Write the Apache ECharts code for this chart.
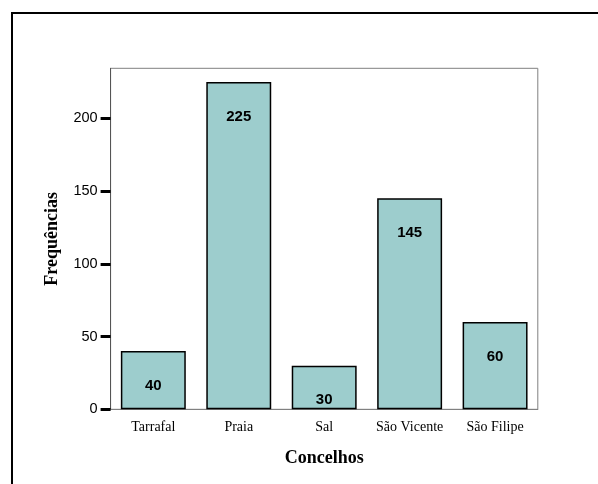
<!DOCTYPE html>
<html>
<head>
<meta charset="utf-8">
<script src="https://cdn.jsdelivr.net/npm/echarts@6/dist/echarts.min.js"></script>
<style>
  html, body { margin: 0; padding: 0; background: #fff; }
  #chart { width: 598px; height: 484px; }
</style>
</head>
<body>
<div id="chart"></div>
<script>
// concelhos e frequências
const concelhos = ['Tarrafal', 'Praia', 'Sal', 'São Vicente', 'São Filipe'];
const frequencias = [40, 225, 30, 145, 60];
const yTicks = [0, 50, 100, 150, 200];

const chart = echarts.init(document.getElementById('chart'));
chart.setOption({
  animation: false,
  graphic: [{
    type: 'rect',
    shape: { x: 12, y: 13, width: 590, height: 500 },
    style: { fill: 'none', stroke: '#000', lineWidth: 2 }
  }],
  grid: {
    left: 110.6, right: 60.2, top: 68.3, bottom: 74.7,
    show: true, borderColor: '#808080', borderWidth: 1
  },
  xAxis: {
    type: 'category',
    data: concelhos,
    name: 'Concelhos',
    nameLocation: 'middle',
    nameGap: 40,
    nameTextStyle: { fontFamily: 'Liberation Serif', fontWeight: 'bold', fontSize: 18, color: '#000' },
    axisLine: { lineStyle: { color: '#808080', width: 1 } },
    axisTick: { alignWithLabel: true, length: 6, lineStyle: { color: '#000', width: 3 } },
    axisLabel: { interval: 0, fontFamily: 'Liberation Serif', fontSize: 14, color: '#000', margin: 11 }
  },
  yAxis: {
    type: 'value',
    min: 0,
    max: 234.4,
    interval: 50,
    name: 'Frequências',
    nameLocation: 'middle',
    nameGap: 49,
    nameTextStyle: { fontFamily: 'Liberation Serif', fontWeight: 'bold', fontSize: 18, color: '#000' },
    splitLine: { show: false },
    axisLine: { show: true, lineStyle: { color: '#555', width: 1 } },
    axisTick: { show: true, length: 10, customValues: yTicks, lineStyle: { color: '#000', width: 3 } },
    axisLabel: { fontFamily: 'Arial, Liberation Sans', fontSize: 14.5, color: '#000', margin: 13, customValues: yTicks }
  },
  series: [{
    type: 'bar',
    data: frequencias,
    barCategoryGap: '24%',
    itemStyle: { color: '#9dcdcd', borderColor: '#000', borderWidth: 1.5 },
    label: {
      show: true,
      position: 'insideTop',
      distance: 27,
      fontFamily: 'Arial, Liberation Sans',
      fontWeight: 'bold',
      fontSize: 15,
      color: '#000'
    }
  }]
});
</script>
</body>
</html>
